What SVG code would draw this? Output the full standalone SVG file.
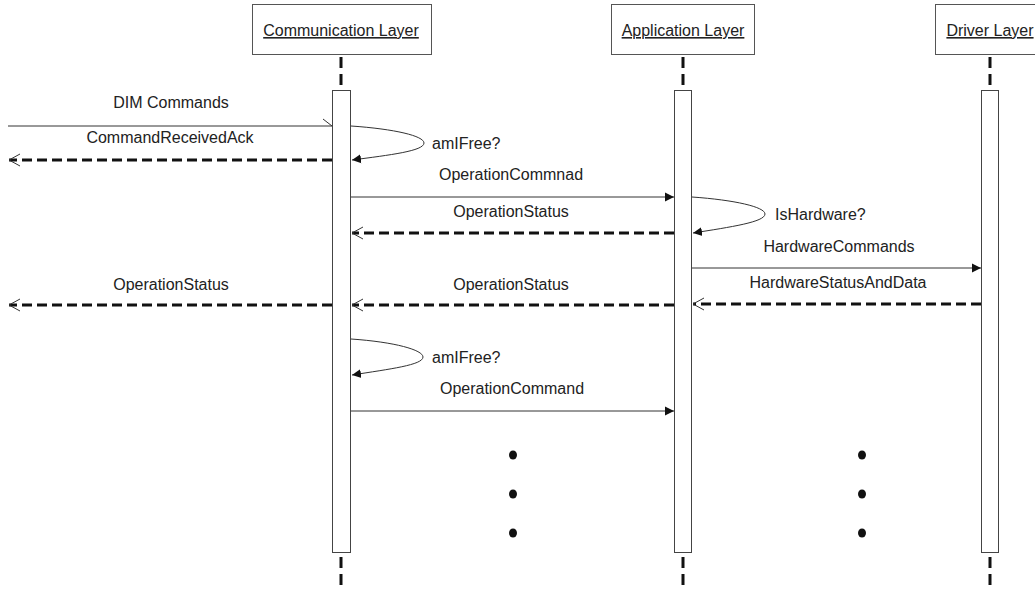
<svg xmlns="http://www.w3.org/2000/svg" width="1035" height="589" viewBox="0 0 1035 589">
  <style>
    .box { fill: #fff; stroke: #555; stroke-width: 1; }
    .bar { fill: #fff; stroke: #444; stroke-width: 1; }
    .life { stroke: #111; stroke-width: 3; stroke-dasharray: 11 6; fill: none; }
    .title { font-family: "Liberation Sans", Arial, sans-serif; font-size: 16px; fill: #222; text-anchor: middle; text-decoration: underline; }
    .lbl { font-family: "Liberation Sans", Arial, sans-serif; font-size: 16px; fill: #222; }
    .mid { text-anchor: middle; }
    .call { stroke: #333; stroke-width: 1; fill: none; }
    .ret { stroke: #111; stroke-width: 3; stroke-dasharray: 10 5; fill: none; }
    .loop { stroke: #333; stroke-width: 1; fill: none; }
    .dot { fill: #111; }
  </style>
  <defs>
    <marker id="filled" markerUnits="userSpaceOnUse" markerWidth="12" markerHeight="12" refX="9" refY="5" orient="auto">
      <path d="M0,0.5 L9,5 L0,9.5 Z" fill="#111" stroke="none"/>
    </marker>
    <marker id="open" markerUnits="userSpaceOnUse" markerWidth="14" markerHeight="14" refX="11" refY="7" orient="auto">
      <path d="M0,1 L11,7 L0,13" fill="none" stroke="#333" stroke-width="1" stroke-dasharray="none"/>
    </marker>
  </defs>

  <!-- lifeline headers -->
  <g id="communication-layer">
    <rect class="box" x="252.5" y="4.5" width="179" height="50"/>
    <text class="title" x="341" y="36">Communication Layer</text>
    <line class="life" x1="341" y1="57" x2="341" y2="90"/>
    <rect class="bar" x="332.5" y="90.5" width="18" height="462"/>
    <line class="life" x1="341" y1="557" x2="341" y2="589"/>
  </g>
  <g id="application-layer">
    <rect class="box" x="611.5" y="4.5" width="143" height="50"/>
    <text class="title" x="683" y="36">Application Layer</text>
    <line class="life" x1="683" y1="57" x2="683" y2="90"/>
    <rect class="bar" x="674.5" y="90.5" width="17" height="462"/>
    <line class="life" x1="683" y1="557" x2="683" y2="589"/>
  </g>
  <g id="driver-layer">
    <rect class="box" x="935.5" y="4.5" width="120" height="50"/>
    <text class="title" x="990" y="36">Driver Layer</text>
    <line class="life" x1="990" y1="57" x2="990" y2="90"/>
    <rect class="bar" x="981.5" y="90.5" width="17" height="462"/>
    <line class="life" x1="990" y1="557" x2="990" y2="589"/>
  </g>

  <!-- messages -->
  <g id="connectors">
    <!-- DIM Commands -->
    <line class="call" x1="8" y1="126" x2="332" y2="126"/>
    <line class="call" x1="323" y1="119" x2="332" y2="126"/>
    <text class="lbl mid" x="171" y="108">DIM Commands</text>

    <!-- CommandReceivedAck -->
    <line class="ret" x1="332" y1="160" x2="9" y2="160" marker-end="url(#open)"/>
    <text class="lbl mid" x="170" y="143">CommandReceivedAck</text>

    <!-- amIFree? -->
    <path class="loop" d="M351,126 C395,129 424,136 424,143 C424,151 390,155 352,160" marker-end="url(#filled)"/>
    <text class="lbl" x="432" y="149">amIFree?</text>

    <!-- OperationCommnad -->
    <line class="call" x1="351" y1="197" x2="674" y2="197" marker-end="url(#filled)"/>
    <text class="lbl mid" x="511" y="180">OperationCommnad</text>

    <!-- OperationStatus -->
    <line class="ret" x1="674" y1="233" x2="352" y2="233" marker-end="url(#open)"/>
    <text class="lbl mid" x="511" y="217">OperationStatus</text>

    <!-- IsHardware? -->
    <path class="loop" d="M692,197 C735,200 765,207 765,214 C765,222 731,227 693,233" marker-end="url(#filled)"/>
    <text class="lbl" x="775" y="220">IsHardware?</text>

    <!-- HardwareCommands -->
    <line class="call" x1="692" y1="268" x2="981" y2="268" marker-end="url(#filled)"/>
    <text class="lbl mid" x="839" y="252">HardwareCommands</text>

    <!-- HardwareStatusAndData -->
    <line class="ret" x1="981" y1="304" x2="693" y2="304" marker-end="url(#open)"/>
    <text class="lbl mid" x="838" y="288">HardwareStatusAndData</text>

    <!-- OperationStatus to communication layer -->
    <line class="ret" x1="674" y1="305" x2="352" y2="305" marker-end="url(#open)"/>
    <text class="lbl mid" x="511" y="290">OperationStatus</text>

    <!-- OperationStatus out -->
    <line class="ret" x1="332" y1="305" x2="9" y2="305" marker-end="url(#open)"/>
    <text class="lbl mid" x="171" y="290">OperationStatus</text>

    <!-- amIFree? (second) -->
    <path class="loop" d="M351,339 C395,342 423,350 423,357 C423,365 390,369 352,375" marker-end="url(#filled)"/>
    <text class="lbl" x="432" y="363">amIFree?</text>

    <!-- OperationCommand -->
    <line class="call" x1="351" y1="411" x2="674" y2="411" marker-end="url(#filled)"/>
    <text class="lbl mid" x="512" y="394">OperationCommand</text>
  </g>

  <!-- continuation dots -->
  <g id="ellipsis">
    <ellipse class="dot" cx="513" cy="455" rx="4" ry="4.5"/>
    <ellipse class="dot" cx="513" cy="494" rx="4" ry="4.5"/>
    <ellipse class="dot" cx="513" cy="533" rx="4" ry="4.5"/>
    <ellipse class="dot" cx="862" cy="455" rx="4" ry="4.5"/>
    <ellipse class="dot" cx="862" cy="494" rx="4" ry="4.5"/>
    <ellipse class="dot" cx="862" cy="533" rx="4" ry="4.5"/>
  </g>
</svg>
